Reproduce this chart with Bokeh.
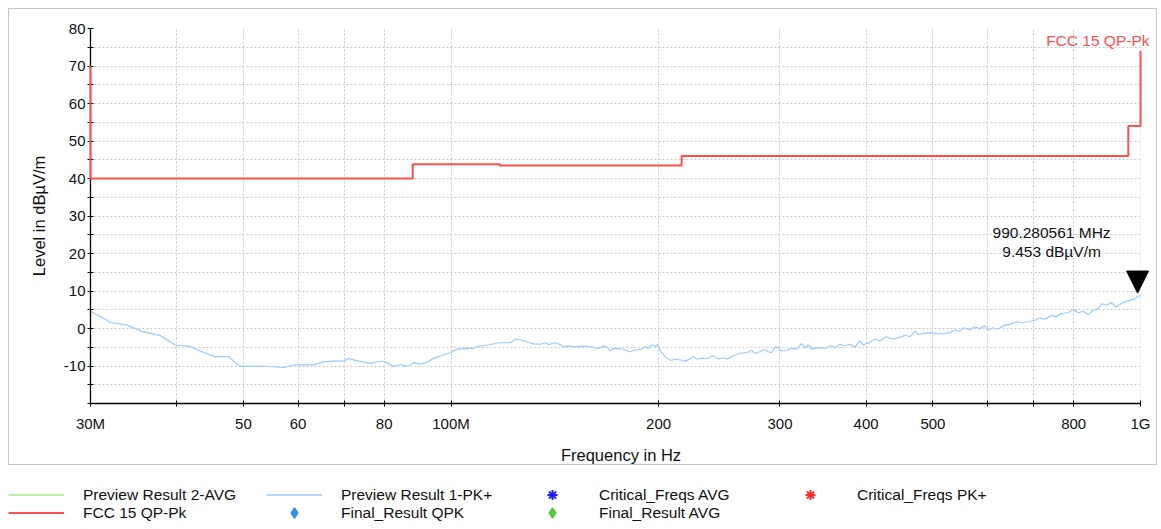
from bokeh.plotting import figure
from bokeh.models import (Range1d, FixedTicker, Label, Legend, LegendItem,
                          Arrow, NormalHead, BoxAnnotation)
from bokeh.layouts import column
from bokeh.embed import file_html
from bokeh.resources import INLINE

# ---------------- data ----------------
# Preview Result 1-PK+ (frequency in MHz, level in dBµV/m)
pk_freq = [30, 32.1, 33.9, 35.8, 37.9, 39.8, 41.7, 43.8, 45.5, 47.6, 49.3, 53.2,
           57.2, 59.5, 63.2, 65.3, 67.6, 69.9, 71.1, 72.6, 76.4, 78.6, 80.0, 82.6,
           84.4, 86.6, 88.2, 90.5, 92.3, 94.4, 97.0, 100, 102, 107.8, 109.6, 112,
           117.2, 122, 124, 126, 128, 131.8, 134.8, 137, 138.8, 141.2, 143.2, 145.6,
           148, 151.4, 154.8, 159.2, 163.7, 166.4, 168.3, 170, 172.4, 176.6, 181.7,
           184.7, 188.9, 191, 193.3, 195.2, 198.2, 199.2, 200.7, 204.4, 208.1, 211.7,
           215.3, 219, 222.2, 224.6, 227.2, 230.9, 236, 239.9, 243.9, 248.3, 252,
           256.7, 263, 268.9, 272.8, 276, 280.6, 284.7, 288.5, 291.8, 295, 298.3,
           301.7, 306.7, 312, 317.2, 322.5, 326.2, 329.7, 333.4, 340.8, 349.9, 354.4,
           360.3, 366.8, 372.9, 378.8, 385.5, 391.5, 396, 405, 411.6, 418.8, 428,
           435.6, 445.8, 455.8, 463, 471.4, 475.8, 486, 496.8, 506, 520, 529, 537.4,
           547, 555, 565.7, 574.7, 585, 594, 601, 611, 621, 635.4, 646, 661, 672,
           687, 703, 714.5, 727, 743, 755, 768, 785, 798, 812.7, 825.5, 840, 853.7,
           868.6, 877.8, 893, 907.4, 920, 933, 948.7, 964.8, 981, 990.3, 1000]
pk_level = [4.6, 1.6, 0.9, -0.9, -1.9, -4.4, -4.7, -6.4, -7.5, -7.5, -10.1, -10.0,
            -10.4, -9.7, -9.7, -8.9, -8.7, -8.7, -8.0, -8.5, -9.3, -8.8, -8.8, -10.1,
            -9.6, -10.1, -9.1, -9.5, -9.0, -7.9, -7.2, -6.4, -5.5, -5.3, -4.7, -4.6,
            -3.8, -3.8, -2.8, -3.0, -3.4, -4.1, -4.2, -3.8, -4.3, -3.8, -4.1, -4.8,
            -4.7, -4.9, -4.7, -4.8, -5.4, -4.7, -4.9, -5.9, -5.3, -5.4, -6.2,
            -5.8, -5.5, -4.8, -5.3, -4.4, -4.8, -4.2, -5.7, -7.5, -8.5, -8.2,
            -8.4, -8.7, -8.1, -7.5, -8.2, -7.9, -8.0, -7.2, -8.1, -7.8, -8.1,
            -7.2, -6.6, -6.4, -5.8, -6.6, -6.2, -5.6, -6.2, -6.4, -4.9, -5.1,
            -6.0, -5.8, -5.3, -5.5, -4.0, -5.3, -4.4, -5.5, -5.1, -5.3, -4.6,
            -5.0, -4.2, -4.6, -4.2, -4.9, -3.3, -4.4, -3.7, -2.8, -3.3, -2.2,
            -2.8, -2.5, -1.8, -2.2, -0.7, -1.6, -1.3, -1.1, -1.4, -1.4, -1.1, -0.4,
            -0.7, 0.2, -0.3, 0.4, 0.0, 0.7, -0.4, 0.2, -0.2, 0.9, 1.1, 1.8, 1.6,
            1.8, 2.2, 2.8, 2.5, 3.5, 3.1, 4.0, 4.2, 5.1, 4.2, 4.6, 3.7, 4.8,
            5.3, 6.6, 6.2, 6.9, 5.7, 6.4, 7.1, 7.5, 7.9, 8.6, 8.7]

# FCC 15 QP-Pk limit line
limit_freq = [30, 30, 88, 88, 117.7, 117.7, 216, 216, 960, 960, 1000, 1000]
limit_level = [70, 40, 40, 43.8, 43.8, 43.5, 43.5, 46, 46, 54, 54, 74]

# marker
marker_freq = 990.280561
marker_level = 9.453
marker_text = "990.280561 MHz\n9.453 dBµV/m"

# axes
f_start, f_stop = 30, 1000
x_ticks = [30, 40, 50, 60, 70, 80, 100, 200, 300, 400, 500, 600, 700, 800, 1000]
x_tick_labels = ["30M", "", "50", "60", "", "80", "100M", "200", "300", "400",
                 "500", "", "", "800", "1G"]
y_ticks = [-20, -10, 0, 10, 20, 30, 40, 50, 60, 70, 80]
y_tick_labels = ["", "-10", "0", "10", "20", "30", "40", "50", "60", "70", "80"]
y_minor = [-15, -5, 5, 15, 25, 35, 45, 55, 65, 75]

legend_row1 = ["Preview Result 2-AVG", "Preview Result 1-PK+", "Critical_Freqs AVG",
               "Critical_Freqs PK+"]
legend_row2 = ["FCC 15 QP-Pk", "Final_Result QPK", "Final_Result AVG"]

FONT = "Liberation Sans"
RED = "#ff5050"
BLUE_LINE = "#99ccff"
GRID = "#c8c8c8"
TXT = "#111111"

# ---------------- main figure ----------------
# a little room right of 1 GHz so the marker and limit name are not clipped
p = figure(width=1149, height=457, x_axis_type="log",
           x_range=Range1d(f_start, f_stop * 1.0374), y_range=Range1d(-20, 80),
           output_backend="svg", toolbar_location=None,
           min_border_left=81, min_border_right=7, min_border_top=19,
           min_border_bottom=60, frame_align=False)
p.styles = {"border": "1px solid #c8c8c8", "margin-left": "8px", "margin-top": "8px"}
p.outline_line_color = None
p.background_fill_color = "white"
p.border_fill_color = "white"

xt = FixedTicker(ticks=x_ticks, minor_ticks=[])
yt = FixedTicker(ticks=y_ticks, minor_ticks=y_minor)
p.xaxis.ticker = xt
p.yaxis.ticker = yt
p.xaxis.bounds = (f_start, f_stop)
p.xaxis.major_label_overrides = dict(zip(x_ticks, x_tick_labels))
p.yaxis.major_label_overrides = dict(zip(y_ticks, y_tick_labels))

for ax in (p.xaxis[0], p.yaxis[0]):
    ax.axis_line_color = "black"
    ax.axis_line_width = 1.3
    ax.major_tick_line_color = "black"
    ax.minor_tick_line_color = "black"
    ax.major_tick_in = 3
    ax.major_tick_out = 3
    ax.minor_tick_in = 3
    ax.minor_tick_out = 3
    ax.major_label_text_font = FONT
    ax.major_label_text_font_size = "15px"
    ax.major_label_text_color = TXT
    ax.axis_label_text_font = FONT
    ax.axis_label_text_font_size = "16.5px"
    ax.axis_label_text_font_style = "normal"
    ax.axis_label_text_color = TXT

p.xaxis.axis_label = "Frequency in Hz"
p.yaxis.axis_label = "Level in dBµV/m"
p.xaxis.major_label_standoff = 8
p.yaxis.major_label_standoff = 2
p.xaxis.axis_label_standoff = 11
p.yaxis.axis_label_standoff = 13

for g in (p.xgrid[0], p.ygrid[0]):
    g.grid_line_color = GRID
    g.grid_line_dash = "2 2"
    g.grid_line_width = 1
p.ygrid.minor_grid_line_color = GRID
p.ygrid.minor_grid_line_dash = "2 2"

# hide the grid beyond the stop frequency
p.add_layout(BoxAnnotation(left=f_stop, fill_color="white", fill_alpha=1,
                           line_alpha=0, level="underlay"))

p.line(pk_freq, pk_level, color=BLUE_LINE, line_width=1.2)
r_limit = p.line(limit_freq, limit_level, color=RED, line_width=2)
r_limit.level = "overlay"  # drawn over the axis line, as in the original

p.add_layout(Label(x=limit_freq[-1], y=limit_level[-1], text="FCC 15 QP-Pk",
                   x_offset=9, y_offset=11, text_align="right",
                   text_baseline="middle", text_color=RED,
                   text_font=FONT, text_font_size="15.5px"))

p.add_layout(Arrow(end=NormalHead(size=22, fill_color="black", line_color="black"),
                   x_start=marker_freq, y_start=marker_level + 1,
                   x_end=marker_freq, y_end=marker_level,
                   line_alpha=0))

p.add_layout(Label(x=marker_freq, y=marker_level, text=marker_text,
                   x_offset=-86, y_offset=33, text_align="center",
                   text_baseline="bottom", text_color=TXT,
                   text_font=FONT, text_font_size="15.5px",
                   text_line_height=1.1))

# ---------------- legend figure ----------------
pl = figure(width=1151, height=62, x_range=Range1d(0, 1), y_range=Range1d(0, 1),
            output_backend="svg", toolbar_location=None,
            x_axis_location=None, y_axis_location=None,
            min_border_left=0, min_border_right=0, min_border_top=0,
            min_border_bottom=0, frame_align=False)
pl.styles = {"margin-left": "8px"}
pl.outline_line_color = None
pl.xgrid.visible = False
pl.ygrid.visible = False

nan = [float("nan")]
r_avg = pl.line(nan, nan, color="#b8f2a8", line_width=2)
r_pk = pl.line(nan, nan, color="#b3d9ff", line_width=2)
r_cavg = pl.scatter(nan, nan, marker="asterisk", line_color="#2020ff", line_width=2)
r_cpk = pl.scatter(nan, nan, marker="asterisk", line_color="#ff3030", line_width=2)
r_lim = pl.line(nan, nan, color=RED, line_width=2)
r_qpk = pl.scatter(nan, nan, marker="diamond", fill_color="#3a8fd8", line_color="#3a8fd8",
                   line_width=1.5)
r_favg = pl.scatter(nan, nan, marker="diamond", fill_color="#5cc83c", line_color="#5cc83c",
                    line_width=1.5)


def make_legend(labels, rends, loc):
    items = [LegendItem(label=lab, renderers=[r]) for lab, r in zip(labels, rends)]
    return Legend(items=items, location=loc, orientation="horizontal",
                  margin=0, padding=0, spacing=2, glyph_width=56, glyph_height=25,
                  label_height=16, label_width=181, label_standoff=19,
                  label_text_font=FONT, label_text_font_size="15.5px",
                  label_text_color=TXT, border_line_color=None,
                  background_fill_alpha=0)


pl.add_layout(make_legend(legend_row1, [r_avg, r_pk, r_cavg, r_cpk], (0, 20)), "center")
pl.add_layout(make_legend(legend_row2, [r_lim, r_qpk, r_favg], (0, 2)), "center")

layout = column(p, pl, spacing=0)
open("out.html", "w").write(file_html(layout, INLINE))
